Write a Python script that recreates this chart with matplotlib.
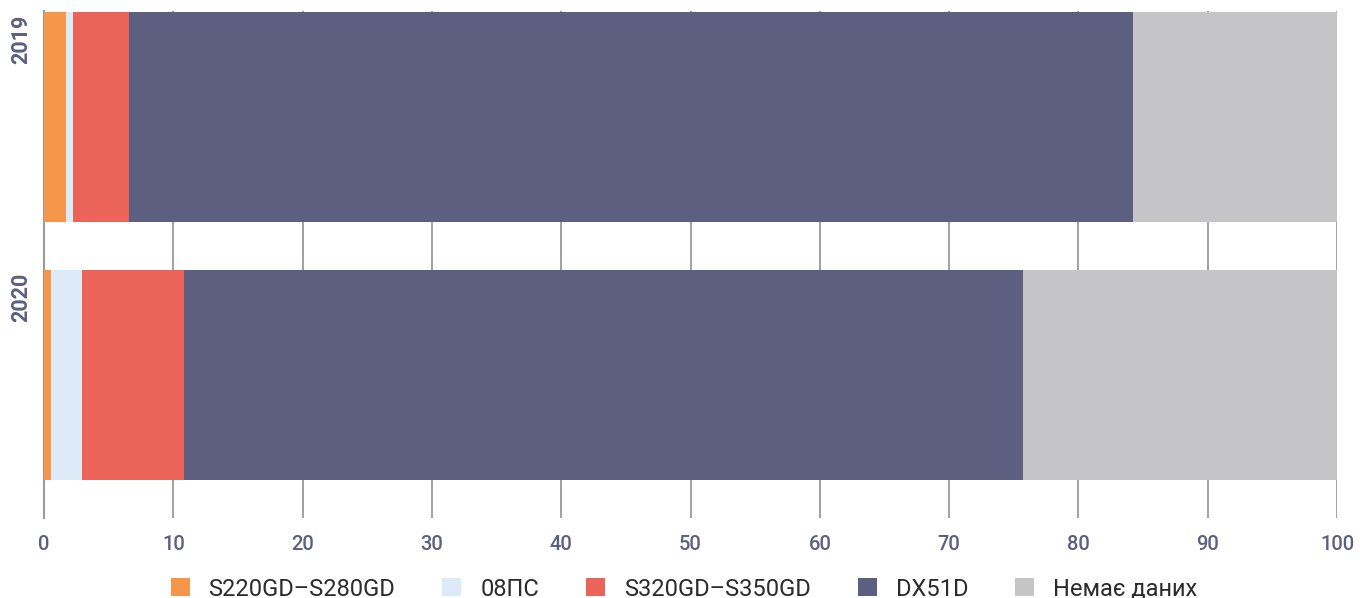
import matplotlib
matplotlib.use('Agg')
import matplotlib.pyplot as plt
from matplotlib.patches import Patch
from matplotlib.transforms import blended_transform_factory

plt.rcParams['font.family'] = ['Roboto', 'DejaVu Sans']

years = ['2019', '2020']
categories = ['S220GD–S280GD', '08ПС', 'S320GD–S350GD', 'DX51D', 'Немає даних']
values = {
    'S220GD–S280GD': [1.7, 0.55],
    '08ПС': [0.55, 2.4],
    'S320GD–S350GD': [4.35, 7.85],
    'DX51D': [77.6, 64.9],
    'Немає даних': [15.8, 24.3],
}
colors = ['#F5964A', '#DDEAF7', '#EC635A', '#5C5F80', '#C5C5C7']
xticks = [0, 10, 20, 30, 40, 50, 60, 70, 80, 90, 100]

label_color = '#5C5F80'
bar_h = 0.813

fig = plt.figure(figsize=(13.6, 5.98), dpi=100)
ax = fig.add_axes([0.0324, 0.1338, 0.9507, 0.848])

ypos = [1, 0]
lefts = [0.0, 0.0]
for cat, col in zip(categories, colors):
    ax.barh(ypos, values[cat], left=lefts, height=bar_h, color=col, zorder=3)
    lefts = [l + v for l, v in zip(lefts, values[cat])]

ax.set_xlim(0, 100)
ax.set_ylim(-0.555, 1.41)
ax.set_xticks(xticks)
ax.set_xticklabels([str(t) for t in xticks])
ax.tick_params(axis='x', length=0, pad=12, labelsize=14.5, labelcolor=label_color)
for lab in ax.get_xticklabels():
    lab.set_fontweight('medium')
ax.set_yticks([])
ax.grid(axis='x', color='#9A9A9A', linewidth=1.3, zorder=0)
for side in ['top', 'right', 'bottom']:
    ax.spines[side].set_visible(False)
ax.spines['left'].set_color('#9A9A9A')
ax.spines['left'].set_linewidth(1.5)

trans = blended_transform_factory(ax.transAxes, ax.transData)
for y, yr in zip(ypos, years):
    ax.text(-0.018, y + bar_h / 2 - 0.01, yr, transform=trans, rotation=90,
            ha='center', va='top', fontsize=15.5, fontweight='bold', color=label_color)

handles = [Patch(facecolor=c, edgecolor='none') for c in colors]
fig.legend(handles, categories, loc='lower center', bbox_to_anchor=(0.503, -0.04),
           ncol=5, frameon=False, prop={'size': 17},
           handlelength=0.8, handleheight=0.8,
           handletextpad=0.8, columnspacing=2.0, labelcolor='#2B2B2B')

fig.savefig('out.png', dpi=100)
